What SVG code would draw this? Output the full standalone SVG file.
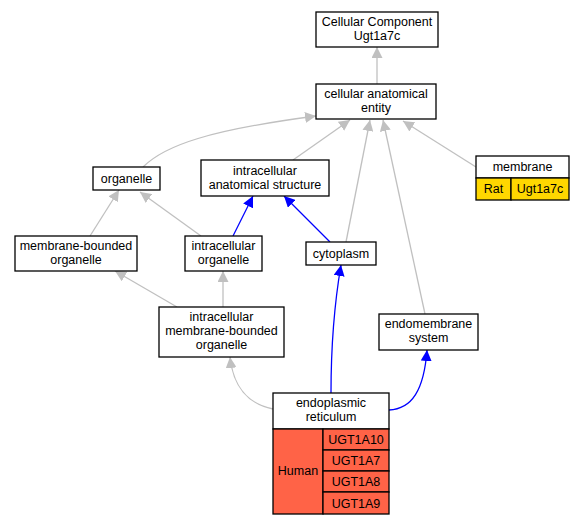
<svg xmlns="http://www.w3.org/2000/svg" width="585" height="525" viewBox="0 0 585 525">
<defs>
<marker id="ag" markerUnits="userSpaceOnUse" markerWidth="11" markerHeight="11" refX="10" refY="5" orient="auto" viewBox="0 0 10 10"><path d="M0,0 L10,5 L0,10 z" fill="#c0c0c0"/></marker>
<marker id="ab" markerUnits="userSpaceOnUse" markerWidth="11" markerHeight="11" refX="10" refY="5" orient="auto" viewBox="0 0 10 10"><path d="M0,0 L10,5 L0,10 z" fill="#0000ff"/></marker>
</defs>
<style>
text{font-family:"Liberation Sans",Arial,sans-serif;font-size:12.5px;fill:#000;text-anchor:middle}
.n{fill:#fff;stroke:#000;stroke-width:1.3}
.g{fill:none;stroke:#c0c0c0;stroke-width:1.3;marker-end:url(#ag)}
.b{fill:none;stroke:#0000ff;stroke-width:1.3;marker-end:url(#ab)}
.h{fill:#ff6347;stroke:#000;stroke-width:1.3}
.r{fill:#ffd700;stroke:#000;stroke-width:1.3}
</style>
<rect width="585" height="525" fill="#fff"/>
<g id="connectors">
<path class="g" d="M377,84 L377,47"/>
<path class="g" d="M143,167 C165,145 210,130 316,116"/>
<path class="g" d="M293,160 L350,120"/>
<path class="g" d="M346,242 L370,120"/>
<path class="g" d="M425,314 L383,120"/>
<path class="g" d="M476,167 L403,121"/>
<path class="g" d="M90,236 L119,190"/>
<path class="g" d="M201,236 L140,192"/>
<path class="b" d="M233,236 L253,196"/>
<path class="b" d="M330,242 L284,196"/>
<path class="g" d="M177,307 L115,271"/>
<path class="g" d="M223,307 L223,271"/>
<path class="g" d="M273,409 C248,404 233,386 230,357"/>
<path class="b" d="M331,393 C331,340 335,300 341,265"/>
<path class="b" d="M389,410 C412,409 424,390 427,350"/>
</g>
<g id="cc"><rect class="n" x="316" y="12" width="122" height="35"/><text x="377" y="26">Cellular Component</text><text x="377" y="40">Ugt1a7c</text></g>
<g id="cae"><rect class="n" x="316" y="84" width="120" height="35"/><text x="376" y="98">cellular anatomical</text><text x="376" y="112">entity</text></g>
<g id="organelle"><rect class="n" x="93" y="167" width="67" height="23"/><text x="126.5" y="183">organelle</text></g>
<g id="ias"><rect class="n" x="201" y="160" width="128" height="36"/><text x="265" y="175">intracellular</text><text x="265" y="189">anatomical structure</text></g>
<g id="membrane"><rect class="n" x="476" y="156" width="93" height="22"/><text x="522.5" y="171">membrane</text><rect class="r" x="476" y="178" width="35" height="22"/><text x="493.5" y="193">Rat</text><rect class="r" x="511" y="178" width="58" height="22"/><text x="540" y="193">Ugt1a7c</text></g>
<g id="mbo"><rect class="n" x="15" y="236" width="122" height="35"/><text x="76" y="250">membrane-bounded</text><text x="76" y="264">organelle</text></g>
<g id="io"><rect class="n" x="185" y="236" width="77" height="35"/><text x="223.5" y="250">intracellular</text><text x="223.5" y="264">organelle</text></g>
<g id="cytoplasm"><rect class="n" x="306" y="242" width="70" height="23"/><text x="341" y="258">cytoplasm</text></g>
<g id="imbo"><rect class="n" x="159" y="307" width="125" height="50"/><text x="221.5" y="321">intracellular</text><text x="221.5" y="335">membrane-bounded</text><text x="221.5" y="349">organelle</text></g>
<g id="ems"><rect class="n" x="379" y="314" width="99" height="36"/><text x="428.5" y="328">endomembrane</text><text x="428.5" y="342">system</text></g>
<g id="er"><rect class="n" x="273" y="393" width="116" height="36"/><text x="331" y="407">endoplasmic</text><text x="331" y="421">reticulum</text><rect class="h" x="273" y="429" width="50" height="85"/><text x="298" y="475">Human</text><rect class="h" x="323" y="429" width="66" height="21"/><text x="356" y="444">UGT1A10</text><rect class="h" x="323" y="450" width="66" height="21"/><text x="356" y="465">UGT1A7</text><rect class="h" x="323" y="471" width="66" height="21"/><text x="356" y="486">UGT1A8</text><rect class="h" x="323" y="492" width="66" height="22"/><text x="356" y="508">UGT1A9</text></g>
</svg>
